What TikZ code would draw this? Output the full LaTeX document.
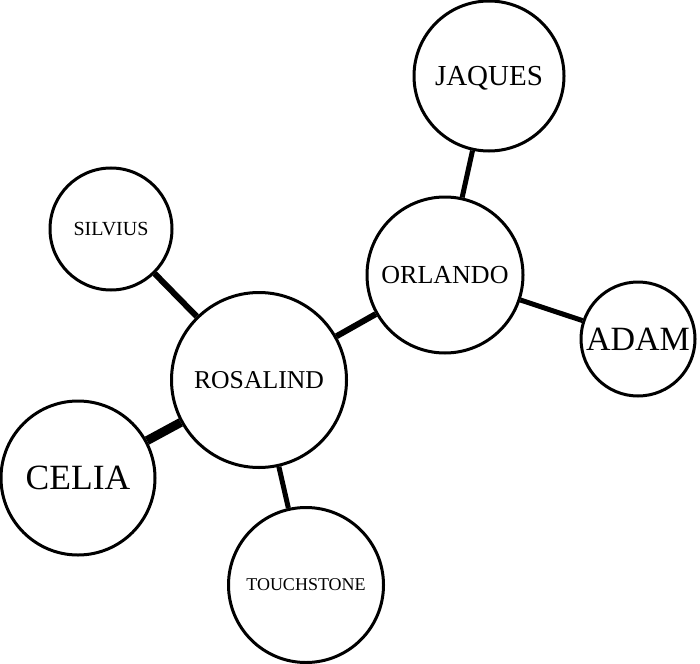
\documentclass[tikz,border=0pt]{standalone}
\usepackage{fontspec}
\setmainfont{Liberation Serif}
\begin{document}
\begin{tikzpicture}[x=1pt,y=-1pt,
  person/.style={circle,draw=black,line width=3pt,fill=white,inner sep=0pt,text depth=-4pt},
  link/.style={line width=#1,black},
  link/.default=5.5pt]
\useasboundingbox (0,0) rectangle (700,663);
\node[person,minimum size=150pt,font=\fontsize{29}{29}\selectfont] (jaques) at (489,76) {JAQUES};
\node[person,minimum size=156pt,font=\fontsize{26}{26}\selectfont] (orlando) at (445,275) {ORLANDO};
\node[person,minimum size=114pt,font=\fontsize{34}{34}\selectfont] (adam) at (638,339) {ADAM};
\node[person,minimum size=122pt,font=\fontsize{20}{20}\selectfont] (silvius) at (111,229) {SILVIUS};
\node[person,minimum size=175pt,font=\fontsize{25.7}{26}\selectfont] (rosalind) at (259,380) {ROSALIND};
\node[person,minimum size=154pt,font=\fontsize{35.5}{36}\selectfont] (celia) at (78,478) {CELIA};
\node[person,minimum size=155pt,font=\fontsize{18}{18}\selectfont] (touchstone) at (306,585) {TOUCHSTONE};
\draw[link=5pt] (jaques) -- (orlando);
\draw[link=5pt] (orlando) -- (adam);
\draw[link=6pt] (rosalind) -- (orlando);
\draw[link=6pt] (silvius) -- (rosalind);
\draw[link=9pt] (celia) -- (rosalind);
\draw[link=5pt] (rosalind) -- (touchstone);
\end{tikzpicture}
\end{document}
